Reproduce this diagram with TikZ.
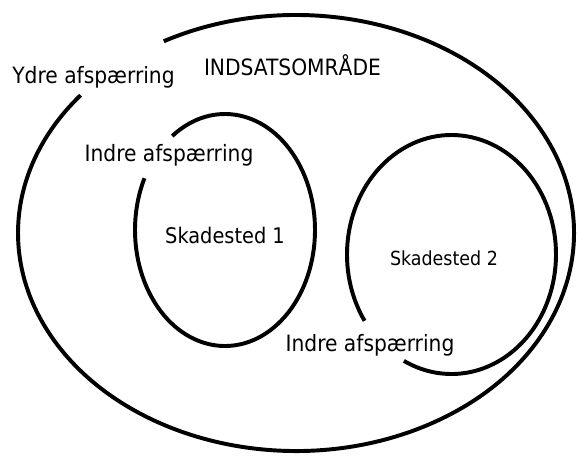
\documentclass[tikz,border=0pt]{standalone}
\usepackage{fontspec}
\setmainfont{DejaVu Sans Condensed}
\tikzset{
	ring/.style={line width=2.8pt},
	lbl/.style={font=\fontsize{16}{19}\selectfont, anchor=base, inner sep=0pt},
}
\begin{document}
\begin{tikzpicture}[x=0.025cm, y=-0.025cm]
	\useasboundingbox (0,0) rectangle (579,456);

	\draw[ring] (296,233) ++(-118.4:278 and 218) arc[start angle=-118.4, end angle=219.2, x radius=278, y radius=218];
	\draw[ring] (225,230) ++(-125.9:90 and 116) arc[start angle=-125.9, end angle=206.5, x radius=90, y radius=116];
	\draw[ring] (451.5,254.5) ++(146.3:104.5 and 119.5) arc[start angle=146.3, end angle=477.1, x radius=104.5, y radius=119.5];

	\node (ydre) at (93.5,83) [lbl] {Ydre afspærring};
	\node (omraade) at (292.5,75) [lbl] {INDSATSOMRÅDE};
	\node (indre1) at (169,161) [lbl] {Indre afspærring};
	\node (sted1) at (225,243) [lbl, font=\fontsize{15.3}{18}\selectfont] {Skadested 1};
	\node (sted2) at (444,265) [lbl, font=\fontsize{13.8}{16}\selectfont] {Skadested 2};
	\node (indre2) at (370,351) [lbl] {Indre afspærring};
\end{tikzpicture}
\end{document}
